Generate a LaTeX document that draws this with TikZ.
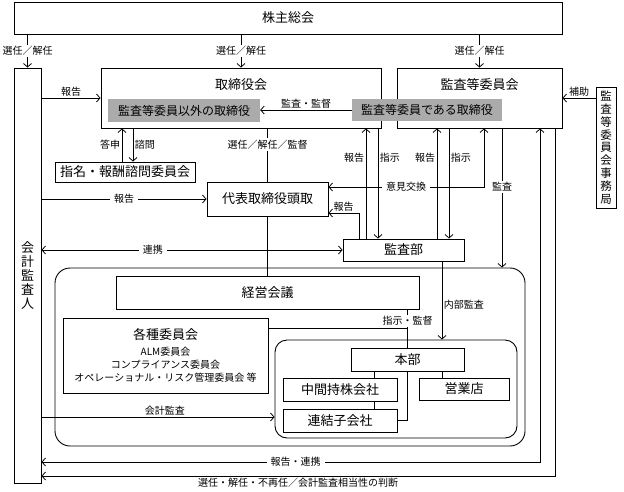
\documentclass[tikz,border=0pt]{standalone}
\usepackage{fontspec}
\setmainfont{Noto Sans CJK JP}
\usetikzlibrary{arrows.meta,calc}
\tikzset{
  box/.style={draw, line width=0.9pt, inner sep=0pt, font=\fontsize{13}{13}\selectfont},
  greybox/.style={fill=black!33, inner sep=0pt, font=\fontsize{12}{12}\selectfont},
  ttl/.style={inner sep=0pt, font=\fontsize{13}{13}\selectfont},
  sub/.style={inner sep=0pt, font=\fontsize{10}{10}\selectfont},
  lbl/.style={inner sep=1.5pt, font=\fontsize{10}{10}\selectfont},
  onlbl/.style={lbl, fill=white, inner xsep=4pt},
  ln/.style={line width=0.8pt},
  arr/.style={ln, -{Straight Barb[length=3.5pt,width=8pt]}},
  arr2/.style={ln, {Straight Barb[length=3.5pt,width=8pt]}-{Straight Barb[length=3.5pt,width=8pt]}},
}
\begin{document}
\begin{tikzpicture}[x=1pt,y=-1pt]
\useasboundingbox (0,0) rectangle (624,491);
\node[box, minimum width=548pt, minimum height=32pt] (soukai) at (288,18) {株主総会};
\node[box, minimum width=27pt, minimum height=415pt, align=center, font=\fontsize{13}{14}\selectfont] (kaikei) at (27.5,275.5) {会\\計\\監\\査\\人};
\node[box, minimum width=280pt, minimum height=60pt] (tori) at (241,98) {};
\node[ttl] (toriT) at (241,85) {取締役会};
\node[box, minimum width=165pt, minimum height=60pt] (iinkai) at (479.5,98) {};
\node[ttl] (iinkaiT) at (479.5,85) {監査等委員会};
\node[greybox, minimum width=152pt, minimum height=23pt] (igai) at (184,110.5) {監査等委員以外の取締役};
\node[greybox, minimum width=150pt, minimum height=22pt] (dearu) at (427,110) {監査等委員である取締役};
\node[box, minimum width=20pt, minimum height=121pt, align=center, font=\fontsize{11.5}{12.8}\selectfont] (jimu) at (606,147.5) {監\\査\\等\\委\\員\\会\\事\\務\\局};
\node[box, minimum width=140pt, minimum height=20pt] (shimei) at (125,172) {指名・報酬諮問委員会};
\node[box, minimum width=121pt, minimum height=34pt] (toudori) at (267.5,199) {代表取締役頭取};
\node[box, minimum width=121pt, minimum height=22pt] (kansabu) at (403.5,250) {監査部};
\node[box, rounded corners=15pt, minimum width=470pt, minimum height=178pt] (soshiki) at (290,357) {};
\node[box, minimum width=303pt, minimum height=33pt] (keiei) at (267.5,292.5) {経営会議};
\node[box, minimum width=205pt, minimum height=75pt] (kakushu) at (165.5,355.5) {};
\node[ttl] (kakushuT) at (165.5,335) {各種委員会};
\node[sub] (alm) at (165.5,352) {ALM委員会};
\node[sub] (comp) at (165.5,365) {コンプライアンス委員会};
\node[sub] (oper) at (165.5,378) {オペレーショナル・リスク管理委員会\ 等};
\node[box, rounded corners=12pt, minimum width=242pt, minimum height=98pt] (bumon) at (396,389) {};
\node[box, minimum width=113pt, minimum height=23pt] (honbu) at (407.5,359.5) {本部};
\node[box, minimum width=114pt, minimum height=23pt] (chukan) at (340,389.5) {中間持株会社};
\node[box, minimum width=114pt, minimum height=23pt] (renketsu) at (340,420.5) {連結子会社};
\node[box, minimum width=90pt, minimum height=22pt] (eigyo) at (464,389) {営業店};
\coordinate (v1) at (366,0);
\coordinate (v2) at (378,0);
\coordinate (v3) at (437,0);
\coordinate (v4) at (449,0);
\coordinate (hk) at (359,213);
\coordinate (iken) at (484,187);
\coordinate (kansaX) at (502,0);
\coordinate (naibu) at (442,0);
\coordinate (kansaY) at (0,417);
\coordinate (kj) at (407.5,328);
\coordinate (hc) at (374,0);
\coordinate (ren) at (540,462);
\coordinate (sen) at (555,476);
\draw[arr] (soukai.south -| kaikei.north) -- node[onlbl]{選任／解任} (kaikei.north);
\draw[arr] (soukai.south -| tori.north) -- node[onlbl]{選任／解任} (tori.north);
\draw[arr] (soukai.south -| iinkai.north) -- node[onlbl]{選任／解任} (iinkai.north);
\draw[arr] (kaikei.east |- tori.west) -- node[lbl, above]{報告} (tori.west);
\draw[arr] (kaikei.east |- toudori.west) -- node[onlbl]{報告} (toudori.west);
\draw[arr2] (kaikei.east |- kansabu.west) -- node[onlbl, pos=0.37]{連携} (kansabu.west);
\draw[arr] (kaikei.east |- kansaY) -- node[lbl, above, pos=0.53]{会計監査} (bumon.west |- kansaY);
\draw[arr] (dearu.west) -- node[lbl, above]{監査・監督} (dearu.west -| igai.east);
\draw[arr] ([xshift=-3pt]shimei.north) -- node[lbl, left]{答申} ([xshift=-3pt]shimei.north |- tori.south);
\draw[arr] ([xshift=8pt]shimei.north |- tori.south) -- node[lbl, right]{諮問} ([xshift=8pt]shimei.north);
\draw[ln] (tori.south -| toudori.north) -- node[onlbl, pos=0.3]{選任／解任／監督} (toudori.north);
\draw[arr] (kansabu.north -| v1) -- node[lbl, left, pos=0.73]{報告} (tori.south -| v1);
\draw[arr] (tori.south -| v2) -- node[lbl, right, pos=0.27]{指示} (kansabu.north -| v2);
\draw[arr] (kansabu.north -| v3) -- node[lbl, left, pos=0.73]{報告} (iinkai.south -| v3);
\draw[arr] (iinkai.south -| v4) -- node[lbl, right, pos=0.27]{指示} (kansabu.north -| v4);
\draw[arr] (kansabu.north -| hk) -- (hk) -- node[lbl, above]{報告} (toudori.east |- hk);
\draw[arr2] (toudori.east |- iken) -- node[onlbl]{意見交換} (iken) -- (iken |- iinkai.south);
\draw[arr] (iinkai.south -| kansaX) -- node[onlbl, pos=0.42]{監査} (soshiki.north -| kansaX);
\draw[arr] (kansabu.south -| naibu) -- node[lbl, right, pos=0.56]{内部監査} (bumon.north -| naibu);
\draw[arr2] (kaikei.east |- ren) -- node[onlbl, pos=0.51]{報告・連携} (ren) -- (ren |- iinkai.south);
\draw[arr] (sen |- iinkai.south) -- (sen) -- node[lbl, below]{選任・解任・不再任／会計監査相当性の判断} (kaikei.east |- sen);
\draw[arr] (jimu.west |- iinkai.east) -- node[lbl, above]{補助} (iinkai.east);
\draw[ln] (toudori.south) -- (keiei.north);
\draw[ln] (keiei.south -| honbu.north) -- node[onlbl, pos=0.3]{指示・監督} (honbu.north);
\draw[ln] (kakushu.east |- kj) -- (kj);
\draw[ln] (honbu.south -| hc) -- (chukan.north -| hc);
\draw[ln] (chukan.south -| hc) -- (renketsu.north -| hc);
\draw[ln] (honbu.south -| naibu) -- (eigyo.north -| naibu);
\draw[ln] (honbu.south) -- (honbu.south |- renketsu.east) -- (renketsu.east);
\end{tikzpicture}
\end{document}
